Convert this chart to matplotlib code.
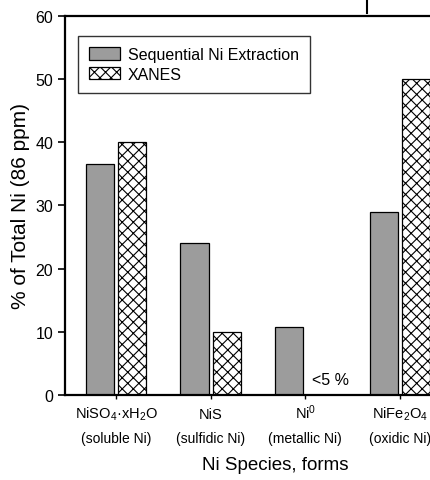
import numpy as np
import matplotlib.pyplot as plt
from matplotlib.lines import Line2D

plt.rcParams['font.family'] = ['Liberation Sans', 'DejaVu Sans']
plt.rcParams['mathtext.fontset'] = 'custom'
plt.rcParams['mathtext.rm'] = 'Liberation Sans'
plt.rcParams['mathtext.it'] = 'Liberation Sans'
plt.rcParams['hatch.linewidth'] = 0.8

# Data
formulas = ["NiSO$_4$·xH$_2$O", "NiS", "Ni$^0$", "NiFe$_2$O$_4$"]
forms = ["(soluble Ni)", "(sulfidic Ni)", "(metallic Ni)", "(oxidic Ni)"]
sequential = [36.5, 24, 10.8, 29]
xanes = [40, 10, 0, 50]

x = np.arange(len(formulas))

fig = plt.figure(figsize=(4.31, 4.81), dpi=100)
ax = fig.add_axes([0.151, 0.177, 0.86, 0.788])

ax.bar(x - 0.17, sequential, width=0.3, color="#9c9c9c", edgecolor="black",
       linewidth=0.9, label="Sequential Ni Extraction")
ax.bar(x + 0.17, xanes, width=0.3, color="white", edgecolor="black",
       linewidth=0.9, hatch="xxx", label="XANES")

# XANES value for metallic Ni below detection
ax.text(2.27, 2.5, "<5 %", ha="center", va="center", fontsize=11.5)

ax.set_xlim(-0.54, 3.38)
ax.set_ylim(0, 60)
ax.set_yticks(range(0, 61, 10))
ax.set_xticks(x)
ax.set_xticklabels(formulas, fontsize=10.5, va="baseline")
ax.tick_params(axis="y", labelsize=11.5, length=5, width=1.2)
ax.tick_params(axis="x", length=3, width=1.0, pad=13.5)

# second line of each category label
for xi, f in zip(x, forms):
    ax.annotate(f, xy=(xi, 0), xycoords=ax.get_xaxis_transform(),
                xytext=(0, -34), textcoords="offset points",
                ha="center", va="baseline", fontsize=10)

ax.set_ylabel("% of Total Ni (86 ppm)", fontsize=15)
ax.set_xlabel("Ni Species, forms", fontsize=13.5, va="top")
ax.xaxis.set_label_coords(0.566, -0.16)

for side in ["left", "bottom", "top"]:
    ax.spines[side].set_linewidth(1.6)
ax.spines["right"].set_visible(False)

leg = ax.legend(loc="upper left", bbox_to_anchor=(0.035, 0.947), fontsize=11.5,
                frameon=True, fancybox=False, edgecolor="black",
                handlelength=1.95, handleheight=0.8, borderpad=0.7,
                labelspacing=0.3, handletextpad=0.45, borderaxespad=0)
leg.get_frame().set_linewidth(1.0)

# small mark at the top right of the original image
fig.add_artist(Line2D([0.852, 0.852], [1.0, 0.97], color="black", linewidth=1.5))

fig.savefig("out.png", dpi=100)
